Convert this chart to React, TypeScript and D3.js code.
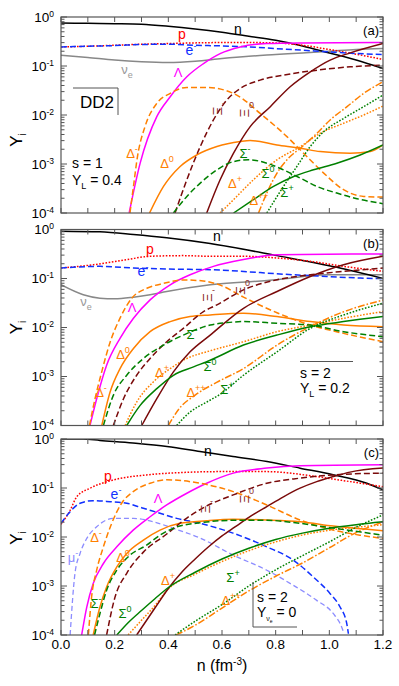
import React from "react";
import * as d3 from "d3";

type Pt = [number, number];

// ---- panel (a): DD2, s = 1, Y_L = 0.4 ----
const a_n: Pt[] = [[0, 0.755], [0.1, 0.743], [0.2, 0.731], [0.3, 0.71], [0.4, 0.646], [0.5, 0.57], [0.6, 0.488], [0.7, 0.405], [0.8, 0.335], [0.9, 0.257], [1.0, 0.185], [1.1, 0.132], [1.2, 0.089]];
const a_p: Pt[] = [[0, 0.245], [0.1, 0.253], [0.2, 0.265], [0.3, 0.278], [0.4, 0.287], [0.5, 0.296], [0.6, 0.301], [0.7, 0.301], [0.8, 0.296], [0.9, 0.265], [1.0, 0.217], [1.1, 0.174], [1.2, 0.136]];
const a_e: Pt[] = [[0, 0.245], [0.1, 0.253], [0.2, 0.261], [0.3, 0.274], [0.4, 0.278], [0.5, 0.265], [0.6, 0.257], [0.7, 0.245], [0.8, 0.227], [0.9, 0.21], [1.0, 0.194], [1.1, 0.18], [1.2, 0.171]];
const a_nu: Pt[] = [[0, 0.166], [0.1, 0.149], [0.2, 0.132], [0.3, 0.122], [0.4, 0.118], [0.5, 0.125], [0.6, 0.142], [0.7, 0.158], [0.8, 0.171], [0.9, 0.185], [1.0, 0.2], [1.1, 0.217], [1.2, 0.227]];
const a_L: Pt[] = [[0.254, 1e-4], [0.295, 1.04e-3], [0.357, 9.25e-3], [0.407, 0.0236], [0.469, 0.0603], [0.531, 0.112], [0.593, 0.179], [0.668, 0.245], [0.767, 0.287], [0.892, 0.296], [1.2, 0.301]];
const a_Dm: Pt[] = [[0.257, 1e-4], [0.27, 3.48e-4], [0.285, 1.42e-3], [0.313, 5.79e-3], [0.357, 0.0173], [0.407, 0.0276], [0.469, 0.0366], [0.543, 0.0366], [0.655, 0.0255], [0.742, 0.0108], [0.842, 3.62e-3], [0.904, 1.66e-3], [0.979, 6.52e-4], [1.053, 2.99e-4], [1.128, 2.18e-4], [1.2, 2.11e-4]];
const a_D0: Pt[] = [[0.33, 1e-4], [0.382, 3.48e-4], [0.444, 8.89e-4], [0.506, 1.53e-3], [0.581, 2.27e-3], [0.668, 2.87e-3], [0.705, 3.01e-3], [0.805, 2.45e-3], [0.892, 2.1e-3], [0.966, 1.79e-3], [1.078, 1.66e-3], [1.153, 1.79e-3], [1.2, 2.45e-3]];
const a_Dp: Pt[] = [[0.593, 1e-4], [0.643, 1.87e-4], [0.717, 4.76e-4], [0.805, 1.22e-3], [0.892, 2.27e-3], [0.966, 4.24e-3], [1.053, 6.78e-3], [1.128, 0.01], [1.2, 0.0152]];
const a_Dpp: Pt[] = [[0.736, 1e-4], [0.767, 2.55e-4], [0.805, 6.52e-4], [0.854, 1.42e-3], [0.892, 2.1e-3], [0.954, 4.24e-3], [1.003, 7.91e-3], [1.066, 0.0148], [1.128, 0.0276], [1.2, 0.0476]];
const a_Xm: Pt[] = [[0.425, 1e-4], [0.469, 4.76e-4], [0.519, 2.27e-3], [0.568, 7.91e-3], [0.618, 0.0202], [0.668, 0.0348], [0.742, 0.0515], [0.829, 0.0652], [0.954, 0.0822], [1.078, 0.0962], [1.2, 0.104]];
const a_X0: Pt[] = [[0.543, 1e-4], [0.593, 4.76e-4], [0.643, 1.66e-3], [0.705, 5.79e-3], [0.78, 0.0148], [0.854, 0.0377], [0.929, 0.076], [1.003, 0.132], [1.078, 0.185], [1.2, 0.287]];
const a_Sm: Pt[] = [[0.419, 1e-4], [0.469, 2.18e-4], [0.519, 4.07e-4], [0.581, 7.6e-4], [0.643, 1.12e-3], [0.699, 1.22e-3], [0.767, 1.04e-3], [0.829, 7.6e-4], [0.892, 5.15e-4], [0.954, 3.48e-4], [1.028, 2.55e-4], [1.103, 1.96e-4], [1.2, 1.55e-4]];
const a_S0: Pt[] = [[0.643, 1e-4], [0.717, 1.87e-4], [0.792, 3.48e-4], [0.867, 5.57e-4], [0.941, 7.6e-4], [1.028, 1.04e-3], [1.115, 1.53e-3], [1.2, 2.45e-3]];
const a_Sp: Pt[] = [[0.767, 1e-4], [0.829, 3.48e-4], [0.879, 8.89e-4], [0.929, 2.27e-3], [0.979, 4.57e-3], [1.053, 8.51e-3], [1.128, 0.0148], [1.2, 0.0255]];

// ---- panel (b): s = 2, Y_L = 0.2 ----
const b_n: Pt[] = [[0, 0.925], [0.145, 0.895], [0.27, 0.789], [0.394, 0.675], [0.556, 0.516], [0.805, 0.293], [1.028, 0.169], [1.2, 0.1]];
const b_p: Pt[] = [[0, 0.164], [0.121, 0.191], [0.245, 0.243], [0.332, 0.284], [0.456, 0.293], [0.556, 0.284], [0.68, 0.284], [0.805, 0.262], [0.929, 0.224], [1.053, 0.177], [1.2, 0.14]];
const b_e: Pt[] = [[0, 0.164], [0.145, 0.177], [0.27, 0.164], [0.394, 0.156], [0.556, 0.151], [0.867, 0.119], [0.991, 0.11], [1.115, 0.102], [1.2, 0.099]];
const b_nu: Pt[] = [[0, 0.0745], [0.083, 0.0465], [0.145, 0.0396], [0.2, 0.0385], [0.27, 0.0416], [0.332, 0.0465], [0.394, 0.0543], [0.556, 0.0745], [0.805, 0.0942], [0.991, 0.119], [1.2, 0.119]];
const b_L: Pt[] = [[0.108, 1e-4], [0.133, 3.52e-4], [0.17, 1.7e-3], [0.22, 6e-3], [0.27, 0.0154], [0.332, 0.0366], [0.407, 0.0745], [0.481, 0.119], [0.568, 0.177], [0.68, 0.243], [0.805, 0.307], [1.2, 0.317]];
const b_Dm: Pt[] = [[0.106, 1e-4], [0.127, 3.55e-4], [0.152, 1.26e-3], [0.183, 5.01e-3], [0.22, 0.0155], [0.264, 0.0398], [0.32, 0.0631], [0.382, 0.0794], [0.456, 0.0933], [0.53, 0.0891], [0.6, 0.0708], [0.68, 0.0417], [0.805, 0.02], [0.93, 0.0112], [1.053, 7.59e-3], [1.2, 5.13e-3]];
const b_D0: Pt[] = [[0.152, 1e-4], [0.183, 4.83e-4], [0.22, 1.45e-3], [0.27, 3.74e-3], [0.332, 8.22e-3], [0.407, 0.0132], [0.481, 0.0167], [0.556, 0.018], [0.68, 0.0195], [0.805, 0.0167], [0.929, 0.0132], [1.053, 0.0112], [1.2, 0.0104]];
const b_Dp: Pt[] = [[0.239, 1e-4], [0.282, 3.01e-4], [0.344, 7.74e-4], [0.407, 1.45e-3], [0.469, 2.33e-3], [0.556, 3.35e-3], [0.68, 5.12e-3], [0.805, 8.22e-3], [0.929, 0.0112], [1.053, 0.0154], [1.2, 0.0211]];
const b_Dpp: Pt[] = [[0.4, 1e-4], [0.44, 2.19e-4], [0.5, 4.17e-4], [0.58, 7.59e-4], [0.68, 1.45e-3], [0.805, 4.37e-3], [0.93, 0.0105], [1.053, 0.0209], [1.2, 0.0363]];
const b_Xm: Pt[] = [[0.195, 1e-4], [0.233, 3.52e-4], [0.282, 1.06e-3], [0.332, 2.33e-3], [0.394, 5.12e-3], [0.456, 9.62e-3], [0.531, 0.0211], [0.581, 0.029], [0.68, 0.0587], [0.805, 0.0942], [0.929, 0.119], [1.053, 0.14], [1.2, 0.164]];
const b_X0: Pt[] = [[0.301, 1e-4], [0.357, 3.52e-4], [0.419, 1.24e-3], [0.481, 3.19e-3], [0.556, 7.01e-3], [0.68, 0.0247], [0.805, 0.0543], [0.929, 0.11], [1.053, 0.191], [1.2, 0.284]];
const b_Sm: Pt[] = [[0.158, 1e-4], [0.195, 4.12e-4], [0.245, 1.06e-3], [0.307, 2.33e-3], [0.382, 4.38e-3], [0.456, 7.01e-3], [0.556, 0.0112], [0.62, 0.0126], [0.68, 0.0132], [0.805, 0.0122], [0.929, 0.0112], [1.053, 8.22e-3], [1.2, 6.49e-3]];
const b_S0: Pt[] = [[0.245, 1e-4], [0.295, 2.57e-4], [0.357, 5.65e-4], [0.419, 1.06e-3], [0.494, 1.57e-3], [0.556, 2.15e-3], [0.68, 4.38e-3], [0.805, 7.01e-3], [0.929, 0.0104], [1.053, 0.0132], [1.2, 0.0167]];
const b_Sp: Pt[] = [[0.431, 1e-4], [0.481, 1.88e-4], [0.543, 3.01e-4], [0.593, 4.33e-4], [0.68, 1.06e-3], [0.805, 3.19e-3], [0.929, 9.62e-3], [1.053, 0.018], [1.2, 0.0313]];

// ---- panel (c): s = 2, Y_nu = 0 ----
const c_n: Pt[] = [[0, 1.0], [0.082, 1.0], [0.145, 0.935], [0.268, 0.828], [0.395, 0.705], [0.518, 0.557], [0.641, 0.44], [0.768, 0.347], [0.891, 0.254], [1.014, 0.186], [1.14, 0.125], [1.2, 0.0914]];
const c_p: Pt[] = [[0, 0.0182], [0.034, 0.035], [0.0585, 0.0661], [0.108, 0.0986], [0.195, 0.146], [0.319, 0.185], [0.443, 0.206], [0.593, 0.216], [0.767, 0.216], [0.953, 0.171], [1.077, 0.135], [1.2, 0.106]];
const c_e: Pt[] = [[0, 0.019], [0.034, 0.0328], [0.071, 0.0489], [0.12, 0.0552], [0.183, 0.0526], [0.245, 0.0489], [0.307, 0.0385], [0.369, 0.0305], [0.431, 0.024], [0.518, 0.019], [0.641, 0.012], [0.767, 6.3e-3], [0.866, 3.37e-3], [0.94, 1.53e-3], [1.003, 6.98e-4], [1.04, 3.72e-4], [1.065, 1.7e-4], [1.071, 1.06e-4]];
const c_mu: Pt[] = [[0.034, 1e-4], [0.052, 1.79e-3], [0.071, 4.61e-3], [0.096, 9.35e-3], [0.133, 0.0162], [0.195, 0.024], [0.269, 0.024], [0.344, 0.0205], [0.419, 0.015], [0.518, 9.55e-3], [0.642, 4.26e-3], [0.767, 2.1e-3], [0.866, 1.03e-3], [0.953, 5.09e-4], [1.015, 2.72e-4], [1.046, 1.45e-4], [1.055, 1.06e-4]];
const c_L: Pt[] = [[0.077, 1e-4], [0.096, 3.72e-4], [0.12, 1.12e-3], [0.158, 2.88e-3], [0.208, 6.3e-3], [0.269, 0.0138], [0.332, 0.0259], [0.394, 0.0451], [0.469, 0.0782], [0.543, 0.125], [0.642, 0.201], [0.767, 0.255], [0.891, 0.284], [1.2, 0.297]];
const c_Dm: Pt[] = [[0.102, 1e-4], [0.114, 5.96e-4], [0.133, 2.1e-3], [0.158, 6.3e-3], [0.189, 0.019], [0.226, 0.0489], [0.269, 0.0843], [0.332, 0.125], [0.394, 0.147], [0.518, 0.125], [0.642, 0.0843], [0.767, 0.0451], [0.891, 0.0222], [1.015, 0.0138], [1.114, 0.0109], [1.2, 9.35e-3]];
const c_D0: Pt[] = [[0.12, 1e-4], [0.145, 3.72e-4], [0.17, 9.55e-4], [0.208, 2.45e-3], [0.245, 4.61e-3], [0.307, 8.63e-3], [0.369, 0.0138], [0.443, 0.019], [0.543, 0.0215], [0.642, 0.023], [0.767, 0.0222], [0.891, 0.0205], [1.015, 0.0167], [1.2, 0.0134]];
const c_Dp: Pt[] = [[0.25, 1e-4], [0.3, 2e-4], [0.35, 3.98e-4], [0.4, 8.71e-4], [0.5, 1.74e-3], [0.6, 3.16e-3], [0.7, 5.25e-3], [0.8, 7.94e-3], [0.9, 0.011], [1.0, 0.0138], [1.1, 0.0158], [1.2, 0.0178]];
const c_Dpp: Pt[] = [[0.429, 1e-4], [0.5, 1.58e-4], [0.6, 3.55e-4], [0.7, 7.94e-4], [0.8, 1.58e-3], [0.9, 2.95e-3], [1.0, 6.03e-3], [1.1, 0.0123], [1.2, 0.0202]];
const c_Xm: Pt[] = [[0.17, 1e-4], [0.201, 5.86e-4], [0.245, 1.82e-3], [0.307, 4.91e-3], [0.394, 0.0115], [0.469, 0.0244], [0.543, 0.043], [0.642, 0.0723], [0.767, 0.125], [0.891, 0.159], [1.015, 0.185], [1.2, 0.201]];
const c_X0: Pt[] = [[0.282, 1e-4], [0.35, 3.55e-4], [0.4, 8.91e-4], [0.45, 1.91e-3], [0.5, 3.55e-3], [0.55, 6.31e-3], [0.6, 0.0105], [0.65, 0.0162], [0.7, 0.0251], [0.767, 0.0417], [0.829, 0.0661], [0.891, 0.0991], [0.953, 0.135], [1.015, 0.171], [1.077, 0.211], [1.2, 0.255]];
const c_Sm: Pt[] = [[0.125, 1e-4], [0.145, 2.72e-4], [0.17, 8.17e-4], [0.208, 2.1e-3], [0.257, 4.26e-3], [0.319, 6.82e-3], [0.369, 0.0109], [0.431, 0.016], [0.518, 0.0195], [0.642, 0.0219], [0.767, 0.0219], [0.891, 0.019], [1.014, 0.0152], [1.2, 0.0109]];
const c_S0: Pt[] = [[0.208, 1e-4], [0.25, 1.78e-4], [0.3, 3.16e-4], [0.35, 5.5e-4], [0.4, 9.33e-4], [0.5, 1.91e-3], [0.6, 3.55e-3], [0.7, 5.89e-3], [0.8, 8.91e-3], [0.9, 0.012], [1.0, 0.0151], [1.1, 0.0178], [1.2, 0.0204]];
const c_Sp: Pt[] = [[0.425, 1e-4], [0.5, 1.91e-4], [0.6, 4.17e-4], [0.7, 1e-3], [0.8, 2.14e-3], [0.9, 4.17e-3], [1.0, 7.94e-3], [1.1, 0.0158], [1.2, 0.0282]];

const xTickLabels = ["0.0", "0.2", "0.4", "0.6", "0.8", "1.0", "1.2"];
const yExponents = [0, -1, -2, -3, -4];

// line style for every species
const STYLE: Record<string, { c: string; d?: string; w?: number }> = {
  n: { c: "#000000" },
  p: { c: "#ff0000", d: "1.6,1.6" },
  e: { c: "#1030ff", d: "6,3" },
  nu: { c: "#888888" },
  mu: { c: "#8c8cff", d: "5,3", w: 1.3 },
  L: { c: "#ff00ff" },
  Xm: { c: "#7a0a0a", d: "6,3" },
  X0: { c: "#7a0a0a" },
  Dm: { c: "#ff8000", d: "6,3" },
  D0: { c: "#ff8000" },
  Dp: { c: "#ff8000", d: "1.6,1.6" },
  Dpp: { c: "#ff8000", d: "7,2,1.6,2" },
  Sm: { c: "#008000", d: "6,3" },
  S0: { c: "#008000" },
  Sp: { c: "#008000", d: "1.6,1.6" },
};

const ORANGE = "#ff8000";
const GREEN = "#008000";
const BROWN = "#8b2c2c";

type Label = { t: string; sup?: string; sub?: string; x: number; y: number; c: string; rot?: boolean; fs?: number };

const X0 = 61;
const PW = 322;
const PH = 196;
const FONT = "'Liberation Sans', Arial, sans-serif";

const panels = [
  {
    top: 17,
    tag: "(a)",
    titleY: 123,
    series: [["nu", a_nu], ["n", a_n], ["p", a_p], ["e", a_e], ["L", a_L], ["Dm", a_Dm], ["D0", a_D0], ["Dp", a_Dp], ["Dpp", a_Dpp], ["Xm", a_Xm], ["X0", a_X0], ["Sm", a_Sm], ["S0", a_S0], ["Sp", a_Sp]] as [string, Pt[]][],
    labels: [
      { t: "n", x: 177, y: 12, c: "#000", fs: 14 },
      { t: "p", x: 121, y: 17, c: "#ff0000", fs: 14 },
      { t: "e", sup: "-", x: 130, y: 33, c: "#1030ff", fs: 14 },
      { t: "ν", sub: "e", x: 66, y: 52, c: "#999999" },
      { t: "Λ", x: 117, y: 55, c: "#ff00ff" },
      { t: "Δ", sup: "-", x: 71, y: 136, c: ORANGE },
      { t: "Δ", sup: "0", x: 106, y: 146, c: ORANGE },
      { t: "Ξ", sup: "-", x: 156, y: 94, c: BROWN, rot: true },
      { t: "Ξ", sup: "0", x: 183, y: 96, c: BROWN, rot: true },
      { t: "Σ", sup: "-", x: 184, y: 136, c: GREEN },
      { t: "Σ", sup: "0", x: 207, y: 156, c: GREEN },
      { t: "Σ", sup: "+", x: 226, y: 175, c: GREEN },
      { t: "Δ", sup: "+", x: 174, y: 166, c: ORANGE },
      { t: "Δ", sup: "++", x: 198, y: 183, c: ORANGE },
    ] as Label[],
  },
  {
    top: 229.5,
    tag: "(b)",
    titleY: 98,
    series: [["nu", b_nu], ["n", b_n], ["p", b_p], ["e", b_e], ["L", b_L], ["Dm", b_Dm], ["D0", b_D0], ["Dp", b_Dp], ["Dpp", b_Dpp], ["Xm", b_Xm], ["X0", b_X0], ["Sm", b_Sm], ["S0", b_S0], ["Sp", b_Sp]] as [string, Pt[]][],
    labels: [
      { t: "n", x: 156, y: 7, c: "#000", fs: 14 },
      { t: "p", x: 89, y: 20, c: "#ff0000", fs: 14 },
      { t: "e", sup: "-", x: 82, y: 42, c: "#1030ff", fs: 14 },
      { t: "ν", sub: "e", x: 25, y: 72, c: "#999999" },
      { t: "Λ", x: 71, y: 78, c: "#ff00ff" },
      { t: "Δ", sup: "-", x: 40, y: 163, c: ORANGE },
      { t: "Δ", sup: "0", x: 62, y: 125, c: ORANGE },
      { t: "Ξ", sup: "-", x: 146, y: 68, c: BROWN, rot: true },
      { t: "Ξ", sup: "0", x: 179, y: 61, c: BROWN, rot: true },
      { t: "Σ", sup: "-", x: 131, y: 105, c: GREEN },
      { t: "Σ", sup: "0", x: 149, y: 137, c: GREEN },
      { t: "Δ", sup: "+", x: 101, y: 143, c: ORANGE },
      { t: "Δ", sup: "++", x: 135, y: 163, c: ORANGE },
      { t: "Σ", sup: "+", x: 166, y: 160, c: GREEN },
    ] as Label[],
  },
  {
    top: 439,
    tag: "(c)",
    titleY: 99,
    series: [["n", c_n], ["p", c_p], ["mu", c_mu], ["e", c_e], ["L", c_L], ["Dm", c_Dm], ["D0", c_D0], ["Dp", c_Dp], ["Dpp", c_Dpp], ["Xm", c_Xm], ["X0", c_X0], ["Sm", c_Sm], ["S0", c_S0], ["Sp", c_Sp]] as [string, Pt[]][],
    labels: [
      { t: "n", x: 147, y: 12, c: "#000", fs: 14 },
      { t: "p", x: 47, y: 37, c: "#ff0000", fs: 14 },
      { t: "e", sup: "-", x: 55, y: 55, c: "#1030ff", fs: 14 },
      { t: "Λ", x: 97, y: 59, c: "#ff00ff" },
      { t: "Ξ", sup: "-", x: 144, y: 70, c: BROWN, rot: true },
      { t: "Ξ", sup: "0", x: 183, y: 60, c: BROWN, rot: true },
      { t: "Δ", sup: "-", x: 35, y: 98, c: ORANGE },
      { t: "μ", sup: "-", x: 12, y: 118, c: "#8c8cff" },
      { t: "Δ", sup: "0", x: 62, y: 118, c: ORANGE },
      { t: "Σ", sup: "-", x: 35, y: 164, c: GREEN },
      { t: "Σ", sup: "0", x: 64, y: 174, c: GREEN },
      { t: "Δ", sup: "+", x: 107, y: 141, c: ORANGE },
      { t: "Σ", sup: "+", x: 172, y: 138, c: GREEN },
      { t: "Δ", sup: "++", x: 170, y: 161, c: ORANGE },
    ] as Label[],
  },
];

function CurveLabel({ l }: { l: Label }) {
  const fs = l.fs ?? 13;
  if (l.rot) {
    return (
      <g fill={l.c} fontSize={fs}>
        <text transform={`translate(${l.x},${l.y}) rotate(-90)`} textAnchor="middle" y={4.5}>
          {l.t}
        </text>
        {l.sup && (
          <text x={l.x + 5} y={l.y - 5} fontSize={9}>
            {l.sup}
          </text>
        )}
      </g>
    );
  }
  return (
    <text x={l.x} y={l.y + 4.5} textAnchor="middle" fill={l.c} fontSize={fs}>
      {l.t}
      {l.sup && (
        <tspan dy={-6} fontSize={9}>
          {l.sup}
        </tspan>
      )}
      {l.sub && (
        <tspan dy={4} fontSize={9}>
          {l.sub}
        </tspan>
      )}
    </text>
  );
}

function Panel({ p, idx, last }: { p: (typeof panels)[number]; idx: number; last: boolean }) {
  const x = d3.scaleLinear().domain([0, 1.2]).range([0, PW]);
  const y = d3.scaleLog().domain([1e-4, 1]).range([PH, 0]);
  const line = d3
    .line<Pt>()
    .x((d) => x(d[0]))
    .y((d) => y(d[1]))
    .curve(d3.curveMonotoneX);

  const xticks = d3.range(0, 13).map((i) => i / 10);
  const minors: number[] = [];
  for (let k = -4; k < 0; k++) for (let m = 2; m < 10; m++) minors.push(m * Math.pow(10, k));
  const clipId = `clip${idx}`;
  const frame = "#555555";

  return (
    <g transform={`translate(${X0},${p.top})`} fontFamily={FONT}>
      <defs>
        <clipPath id={clipId}>
          <rect x={0} y={0} width={PW} height={PH} />
        </clipPath>
      </defs>
      <g clipPath={`url(#${clipId})`}>
        {p.series.map(([k, data]) => {
          const s = STYLE[k];
          return (
            <path
              key={k}
              d={line(data) ?? ""}
              fill="none"
              stroke={s.c}
              strokeWidth={s.w ?? 1.5}
              strokeDasharray={s.d}
            />
          );
        })}
      </g>

      {/* ticks, all pointing inward */}
      <g stroke={frame} strokeWidth={1}>
        {xticks.map((t) => (
          <g key={t}>
            <line x1={x(t)} x2={x(t)} y1={0} y2={5} />
            <line x1={x(t)} x2={x(t)} y1={PH} y2={PH - 5} />
          </g>
        ))}
        {yExponents.map((e) => (
          <g key={e}>
            <line x1={0} x2={6} y1={y(Math.pow(10, e))} y2={y(Math.pow(10, e))} />
            <line x1={PW} x2={PW - 6} y1={y(Math.pow(10, e))} y2={y(Math.pow(10, e))} />
          </g>
        ))}
        {minors.map((v, i) => (
          <g key={i}>
            <line x1={0} x2={3.5} y1={y(v)} y2={y(v)} />
            <line x1={PW} x2={PW - 3.5} y1={y(v)} y2={y(v)} />
          </g>
        ))}
      </g>
      <rect x={0} y={0} width={PW} height={PH} fill="none" stroke={frame} strokeWidth={1.2} />

      {/* y tick labels */}
      {yExponents.map((e) => (
        <text key={e} x={-7} y={y(Math.pow(10, e)) + 4.5} textAnchor="end" fontSize={13.5} fill="#000">
          10
          <tspan dy={-5} fontSize={8.5}>
            {e}
          </tspan>
        </text>
      ))}

      {/* axis title */}
      <text transform={`translate(${-39},${p.titleY}) rotate(-90)`} textAnchor="middle" fontSize={17} fill="#000">
        Y
        <tspan dy={4} fontSize={10}>
          i
        </tspan>
      </text>

      {last &&
        xTickLabels.map((t) => (
          <text key={t} x={x(+t)} y={PH + 14} textAnchor="middle" fontSize={13.5} fill="#000">
            {t}
          </text>
        ))}

      {p.labels.map((l, i) => (
        <CurveLabel key={i} l={l} />
      ))}
      <text x={318} y={18} textAnchor="end" fontSize={13} fill="#000">
        {p.tag}
      </text>
    </g>
  );
}

export default function App() {
  const [pa, pb, pc] = panels;
  return (
    <svg width={399} height={686} style={{ position: "absolute", left: 0, top: 0, background: "#fff" }} fontFamily={FONT}>
      <Panel p={pa} idx={0} last={false} />
      <Panel p={pb} idx={1} last={false} />
      <Panel p={pc} idx={2} last={true} />

      {/* panel (a) annotations */}
      <g transform={`translate(${X0},${pa.top})`}>
        <polyline points="12,71 57,71 57,98" fill="none" stroke="#555" strokeWidth={1} />
        <text x={36} y={91} textAnchor="middle" fontSize={17}>DD2</text>
        <text x={11} y={151} fontSize={14}>s = 1</text>
        <text x={11} y={168} fontSize={14}>
          Y<tspan dy={4} fontSize={9}>L</tspan>
          <tspan dy={-4}> = 0.4</tspan>
        </text>
      </g>

      {/* panel (b) annotations */}
      <g transform={`translate(${X0},${pb.top})`}>
        <line x1={239} x2={292} y1={132} y2={132} stroke="#555" strokeWidth={1} />
        <text x={239} y={148} fontSize={14}>s = 2</text>
        <text x={239} y={163} fontSize={14}>
          Y<tspan dy={4} fontSize={9}>L</tspan>
          <tspan dy={-4}> = 0.2</tspan>
        </text>
      </g>

      {/* panel (c) annotations */}
      <g transform={`translate(${X0},${pc.top})`}>
        <polyline points="192,143 192,188 236,188" fill="none" stroke="#555" strokeWidth={1} />
        <text x={196} y={163} fontSize={14}>s = 2</text>
        <text x={196} y={178} fontSize={14}>
          Y<tspan dy={4} fontSize={7}>ν</tspan>
          <tspan dy={2} fontSize={5}>e</tspan>
          <tspan dy={-6}> = 0</tspan>
        </text>
      </g>

      <text x={222} y={671} textAnchor="middle" fontSize={16}>
        n (fm<tspan dy={-6} fontSize={10}>-3</tspan>
        <tspan dy={6}>)</tspan>
      </text>
    </svg>
  );
}
